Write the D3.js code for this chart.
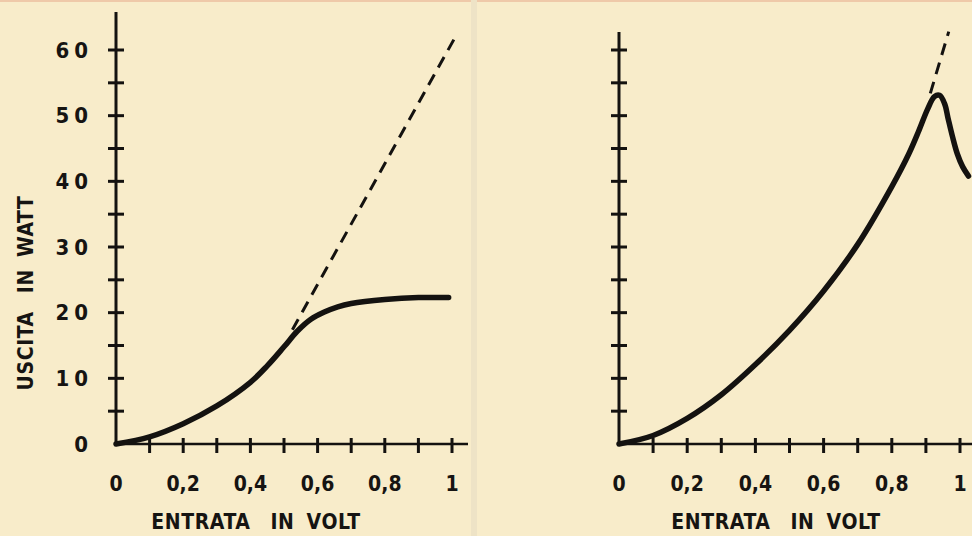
<!DOCTYPE html>
<html>
<head>
<meta charset="utf-8">
<script src="https://cdn.jsdelivr.net/npm/d3@7/dist/d3.min.js"></script>
<style>
  html, body { margin: 0; padding: 0; background: #f8ecca; }
  svg { display: block; }
  text { font-family: "DejaVu Sans Condensed", "DejaVu Sans", sans-serif; font-weight: bold; fill: #161412; }
</style>
</head>
<body>
<svg id="chart" width="972" height="536"></svg>
<script>
// ---------- data ----------
const xTicks = [0, 0.1, 0.2, 0.3, 0.4, 0.5, 0.6, 0.7, 0.8, 0.9, 1];
const xTickLabels = ["0", "0,2", "0,4", "0,6", "0,8", "1"];
const xLabelValues = [0, 0.2, 0.4, 0.6, 0.8, 1];
const yTicks = [0, 5, 10, 15, 20, 25, 30, 35, 40, 45, 50, 55, 60];
const yTickLabels = ["0", "10", "20", "30", "40", "50", "60"];
const yLabelValues = [0, 10, 20, 30, 40, 50, 60];
const xTitleWords = ["ENTRATA", "IN", "VOLT"];
const yTitleWords = ["USCITA", "IN", "WATT"];

// left chart: saturating amplifier output
const leftInput  = [0, 0.1, 0.2, 0.3, 0.4, 0.45, 0.5, 0.54, 0.58, 0.62, 0.66, 0.7, 0.8, 0.9, 0.99];
const leftOutput = [0, 1.1, 3.1, 5.8, 9.4, 11.9, 14.8, 17.2, 19.0, 20.1, 20.9, 21.4, 22.0, 22.3, 22.3];
// left linear (dashed) extension
const leftDashIn  = [0.525, 1.01];
const leftDashOut = [17.4, 62];

// right chart: output with peak then drop
const rightInput  = [0, 0.1, 0.2, 0.3, 0.4, 0.5, 0.6, 0.7, 0.8, 0.85, 0.88, 0.905, 0.925, 0.94, 0.955, 0.965, 0.978, 0.992, 1.008, 1.025];
const rightOutput = [0, 1.3, 3.9, 7.5, 12.1, 17.3, 23.3, 30.4, 39.2, 44.2, 47.8, 51.0, 52.9, 53.1, 51.8, 49.6, 46.8, 44.2, 42.2, 40.8];
const rightDashIn  = [0.913, 0.967];
const rightDashOut = [53.4, 62.8];

// ---------- drawing ----------
const svg = d3.select("#chart");
const ink = "#141210";

svg.append("rect").attr("width", 972).attr("height", 536).attr("fill", "#f8ecca");
svg.append("rect").attr("width", 972).attr("height", 2).attr("fill", "#efc9a9");
svg.append("rect").attr("x", 471).attr("y", 0).attr("width", 6).attr("height", 536).attr("fill", "#eee3c6");

function title(g, words, gaps) {
  const t = g.append("text").attr("text-anchor", "middle").attr("font-size", 21).attr("letter-spacing", 0.6);
  t.selectAll("tspan").data(words).join("tspan")
    .attr("dx", (d, i) => i === 0 ? 0 : gaps[i - 1])
    .text(d => d);
  return t;
}

function panel(cfg) {
  const x = d3.scaleLinear().domain([0, 1]).range([cfg.x0, cfg.x1]);
  const y = d3.scaleLinear().domain([0, 60]).range([444, 50]);
  const g = svg.append("g");

  // axes lines
  g.append("line").attr("x1", x(0)).attr("x2", x(0)).attr("y1", y(0) + 1.5).attr("y2", cfg.yTop)
    .attr("stroke", ink).attr("stroke-width", 3);
  g.append("line").attr("x1", x(0) - 1.5).attr("x2", cfg.xEnd).attr("y1", y(0)).attr("y2", y(0))
    .attr("stroke", ink).attr("stroke-width", 2.6);

  // y ticks (crossing)
  g.selectAll(".yt").data(yTicks.filter(d => d > 0)).join("line")
    .attr("x1", x(0) - 8).attr("x2", x(0) + 8)
    .attr("y1", d => y(d)).attr("y2", d => y(d))
    .attr("stroke", ink).attr("stroke-width", 3);

  // x ticks (crossing)
  g.selectAll(".xt").data(xTicks.filter(d => d > 0)).join("line")
    .attr("x1", d => x(d)).attr("x2", d => x(d))
    .attr("y1", y(0) - 6).attr("y2", y(0) + 9)
    .attr("stroke", ink).attr("stroke-width", 3);

  // x tick labels
  g.selectAll(".xl").data(xLabelValues).join("text")
    .attr("x", d => x(d)).attr("y", 491)
    .attr("text-anchor", "middle").attr("font-size", 21)
    .text((d, i) => xTickLabels[i]);

  // x title
  title(g, xTitleWords, [20, 12]).attr("x", cfg.titleX).attr("y", 529);

  if (cfg.yLabels) {
    g.selectAll(".yl").data(yLabelValues).join("text")
      .attr("x", 93).attr("y", d => y(d) + 7.5)
      .attr("text-anchor", "end").attr("font-size", 22).attr("letter-spacing", 5)
      .text((d, i) => yTickLabels[i]);
    title(g, yTitleWords, [18, 12]).attr("transform", "translate(33,293) rotate(-90)");
  }

  // dashed line
  const dash = cfg.dashIn.map((d, i) => [d, cfg.dashOut[i]]);
  g.append("path").datum(dash)
    .attr("d", d3.line().x(d => x(d[0])).y(d => y(d[1])))
    .attr("fill", "none").attr("stroke", ink).attr("stroke-width", 3)
    .attr("stroke-dasharray", "12,8");

  // curve
  const pts = cfg.input.map((d, i) => [d, cfg.output[i]]);
  g.append("path").datum(pts)
    .attr("d", d3.line().curve(d3.curveCatmullRom.alpha(0.5)).x(d => x(d[0])).y(d => y(d[1])))
    .attr("fill", "none").attr("stroke", ink).attr("stroke-width", 5.5)
    .attr("stroke-linecap", "round").attr("stroke-linejoin", "round");
}

panel({ x0: 116, x1: 452, yTop: 12, xEnd: 468, titleX: 256, yLabels: true,
        input: leftInput, output: leftOutput, dashIn: leftDashIn, dashOut: leftDashOut });
panel({ x0: 619, x1: 960, yTop: 32, xEnd: 972, titleX: 776, yLabels: false,
        input: rightInput, output: rightOutput, dashIn: rightDashIn, dashOut: rightDashOut });
</script>
</body>
</html>
